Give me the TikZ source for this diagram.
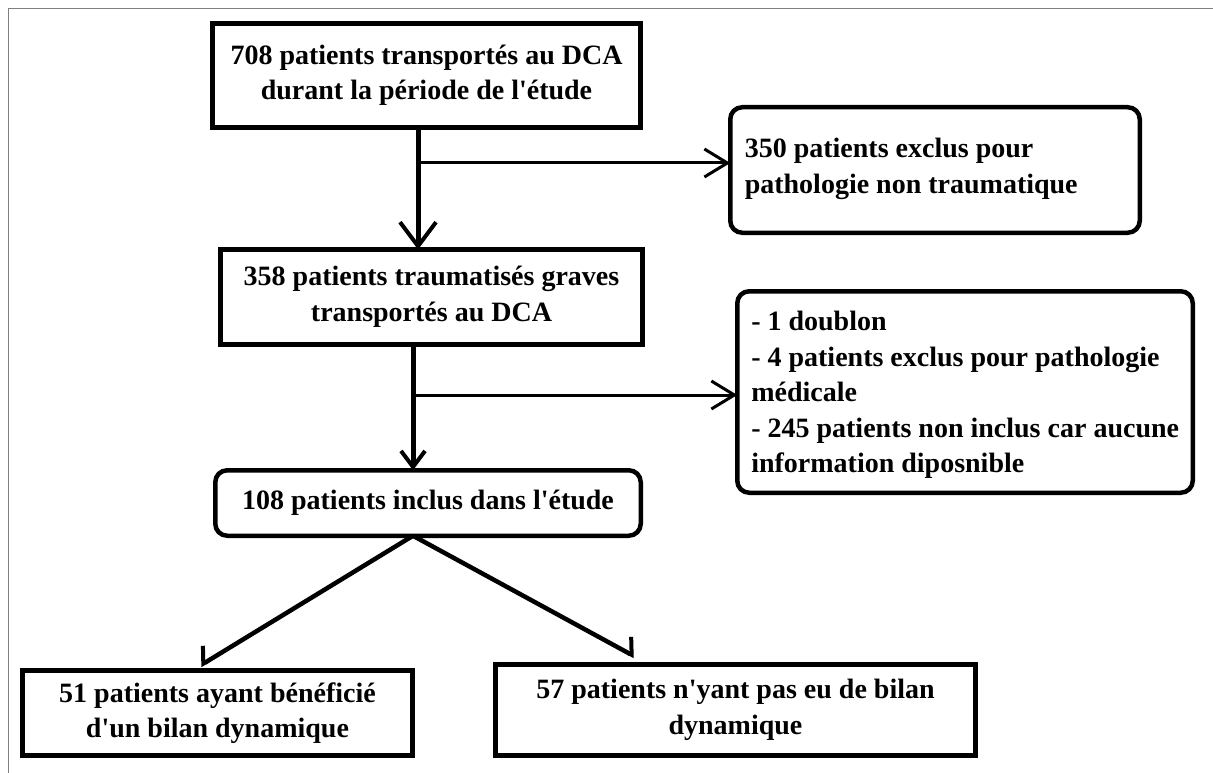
\documentclass[tikz,border=0pt]{standalone}
\usepackage{fontspec}
\setmainfont{Liberation Serif}[Ligatures=TeXOff]
\usetikzlibrary{arrows.meta,calc}
\begin{document}
\begin{tikzpicture}[x=1pt,y=-1pt,
  every node/.style={font=\bfseries\fontsize{28}{35.5}\selectfont, inner sep=0pt, outer sep=0pt},
  sqbox/.style={draw, line width=5pt, align=center},
  rbox/.style={draw, line width=4.5pt, rounded corners=12pt, align=center},
  ltext/.style={anchor=west, align=left},
  trunk/.style={line width=5pt},
  branch/.style={line width=3pt, -{Straight Barb[length=23pt,width=28pt,line width=3pt]}},
  diag/.style={line width=4.5pt},
]
\useasboundingbox (0,0) rectangle (1213,773);
\draw[gray, line width=1pt] (8,773) -- (8,9) -- (1213,9);

\node[sqbox, minimum width=428pt, minimum height=104pt] (b1) at (426.5,75.5)
  {708 patients transportés au DCA\\durant la période de l'étude};
\node[sqbox, minimum width=422pt, minimum height=95pt] (b2) at (431.5,297)
  {358 patients traumatisés graves\\transportés au DCA};
\node[rbox, minimum width=409.5pt, minimum height=125.5pt] (b3) at (935,170) {};
\node[ltext] (b3t) at ([xshift=14.5pt,yshift=1pt]b3.west)
  {350 patients exclus pour\\pathologie non traumatique};
\node[rbox, minimum width=455.5pt, minimum height=201.5pt] (b5) at (965,392) {};
\node[ltext] (b5t) at ([xshift=14pt,yshift=-3pt]b5.west)
  {- 1 doublon\\- 4 patients exclus pour pathologie\\médicale\\- 245 patients non inclus car aucune\\information diposnible};
\node[rbox, minimum width=425.5pt, minimum height=65.5pt] (b4) at (428,503)
  {108 patients inclus dans l'étude};
\node[sqbox, minimum width=390pt, minimum height=85pt] (b6) at (217.5,713)
  {51 patients ayant bénéficié\\d'un bilan dynamique};
\node[sqbox, minimum width=480pt, minimum height=91pt] (b7) at (735.5,710)
  {57 patients n'yant pas eu de bilan\\dynamique};

\coordinate (j1) at (418,163);
\coordinate (j2) at (413,395);
\coordinate (j3) at (413,540);
\coordinate (t6) at ($(b6.north west)!0.456!(b6.north east)$);
\coordinate (t7) at ($(b7.north west)!0.29!(b7.north east)$);

\draw[trunk, -{Straight Barb[length=24pt,width=36pt,line width=4pt]}] (b1.south -| j1) -- (b2.north -| j1);
\draw[branch] (j1) -- (b3.west |- j1);
\draw[trunk, -{Straight Barb[length=16pt,width=24pt,line width=4pt]}] (b2.south -| j2) -- (b4.north -| j2);
\draw[branch] (j2) -- (b5.west |- j2);
\draw[diag, -{Straight Barb[right,length=9pt,width=31pt,line width=4pt]}] (b4.south -| j3) -- ([yshift=5pt]t6);
\draw[diag, -{Straight Barb[left,length=9pt,width=31pt,line width=4pt]}] (b4.south -| j3) -- ([yshift=8pt]t7);
\end{tikzpicture}
\end{document}
